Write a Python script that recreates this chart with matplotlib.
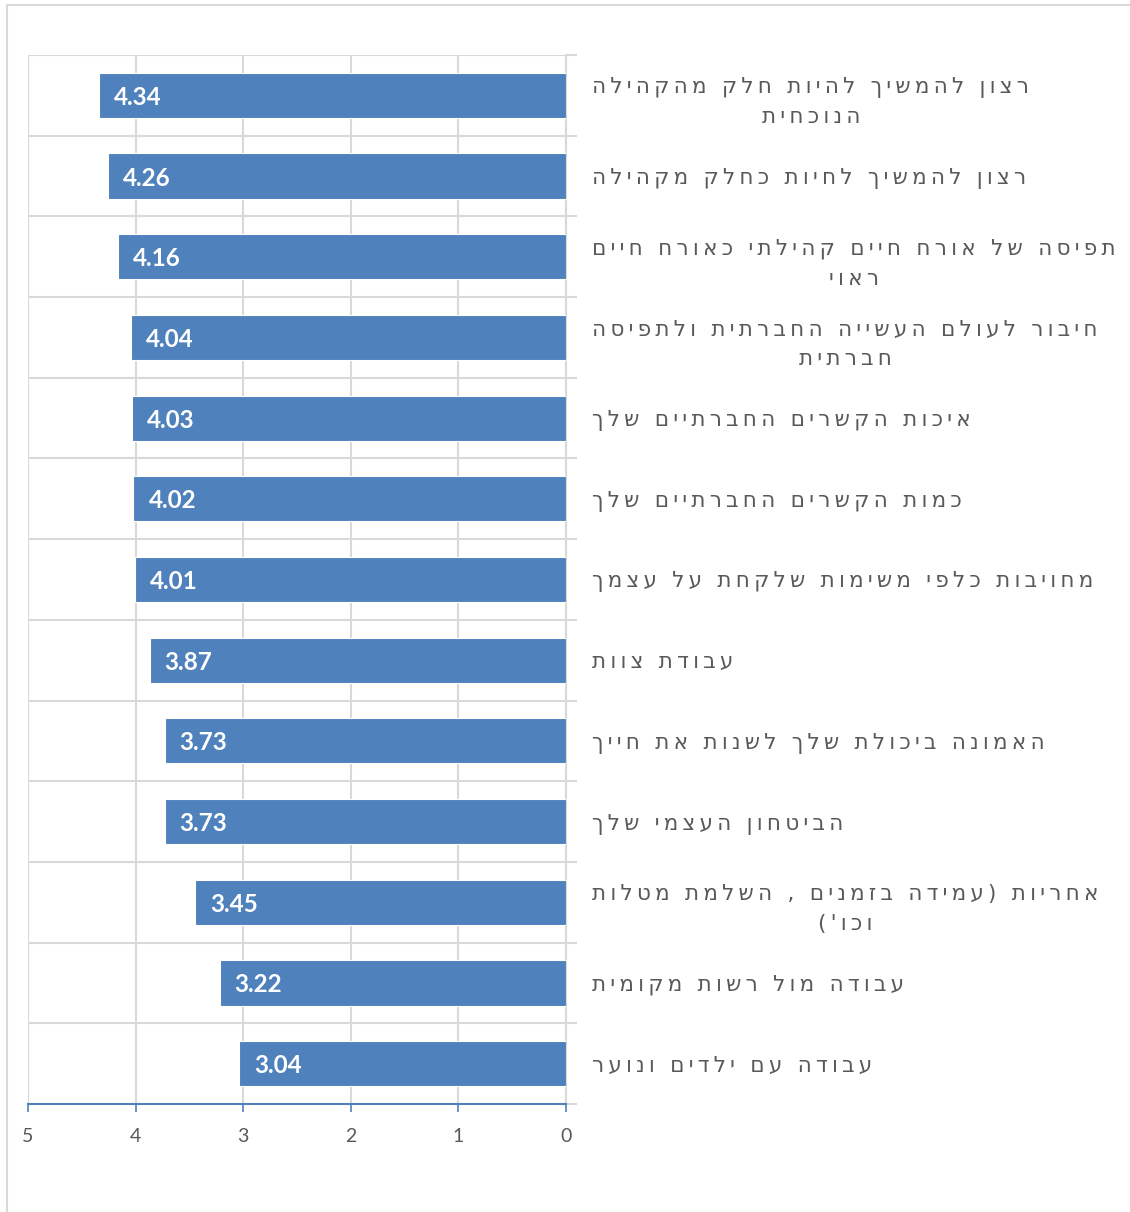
import matplotlib
matplotlib.use("Agg")
import matplotlib.pyplot as plt
from matplotlib.patches import Rectangle
import numpy as np

categories = [
    "רצון להמשיך להיות חלק מהקהילה\nהנוכחית",
    "רצון להמשיך לחיות כחלק מקהילה",
    "תפיסה של אורח חיים קהילתי כאורח חיים\nראוי",
    "חיבור לעולם העשייה החברתית ולתפיסה\nחברתית",
    "איכות הקשרים החברתיים שלך",
    "כמות הקשרים החברתיים שלך",
    "מחויבות כלפי משימות שלקחת על עצמך",
    "עבודת צוות",
    "האמונה ביכולת שלך לשנות את חייך",
    "הביטחון העצמי שלך",
    "אחריות (עמידה בזמנים , השלמת מטלות\nוכו')",
    "עבודה מול רשות מקומית",
    "עבודה עם ילדים ונוער",
]
values = [4.34, 4.26, 4.16, 4.04, 4.03, 4.02, 4.01, 3.87, 3.73, 3.73, 3.45, 3.22, 3.04]
xticks = [5, 4, 3, 2, 1, 0]

BAR = "#4F81BD"
GRID = "#D9D9D9"
TXT = "#595959"

mirror = str.maketrans("()", ")(")
SP = "\u2009"  # thin space used as letter spacing


def visual(s):
    # matplotlib has no bidi support: reverse each line for right-to-left display,
    # and add letter spacing like the original rendering
    return "\n".join(SP.join(line[::-1].translate(mirror)) for line in s.split("\n"))


fig = plt.figure(figsize=(11.3, 12.12), dpi=100)
W, H = 1130, 1212
fig.patches.append(Rectangle((7 / W, -0.01), 1.2, 1 - 5 / H + 0.01, transform=fig.transFigure,
                             fill=False, edgecolor=GRID, linewidth=1.5))

ax = fig.add_axes([28 / W, 1 - 1104 / H, (566 - 28) / W, (1104 - 55) / H])
n = len(categories)
centers = np.arange(n) + 0.5
ax.barh(centers, values, height=0.56, color=BAR, edgecolor="white", linewidth=0.8, zorder=3)
ax.set_xlim(5, 0)
ax.set_ylim(n, 0)

for y, v in zip(centers, values):
    ax.annotate(f"{v:.2f}", xy=(v, y), xytext=(15, -2), textcoords="offset pixels",
                ha="left", va="center", color="white", fontsize=17.5, fontweight="bold",
                family=["Lato", "DejaVu Sans"], zorder=4)

ax.set_xticks(xticks)
ax.set_xticklabels([str(t) for t in xticks], fontsize=14, color=TXT, family=["Lato", "DejaVu Sans"])
ax.tick_params(axis="x", direction="out", length=6, width=1.2, color=BAR, pad=11)
ax.xaxis.grid(True, color=GRID, linewidth=1.5, zorder=0)

ax.yaxis.tick_right()
ax.set_yticks(np.arange(n + 1))
ax.set_yticklabels([])
ax.set_yticks(centers, minor=True)
ax.set_yticklabels([visual(c) for c in categories], minor=True, fontsize=15.5, color=TXT,
                   ha="left", multialignment="center", linespacing=1.6, family=["DejaVu Sans"])
ax.tick_params(axis="y", which="major", direction="out", length=8, width=1.5, color=GRID)
ax.tick_params(axis="y", which="minor", length=0, pad=19)
ax.yaxis.grid(True, which="major", color=GRID, linewidth=1.5, zorder=0)

for s in ["top", "left"]:
    ax.spines[s].set_visible(False)
ax.spines["right"].set_color(GRID)
ax.spines["right"].set_linewidth(1.5)
ax.spines["bottom"].set_color(BAR)
ax.spines["bottom"].set_linewidth(1.5)
ax.spines["bottom"].set_zorder(5)
ax.set_axisbelow(True)

fig.savefig("out.png", dpi=100)
